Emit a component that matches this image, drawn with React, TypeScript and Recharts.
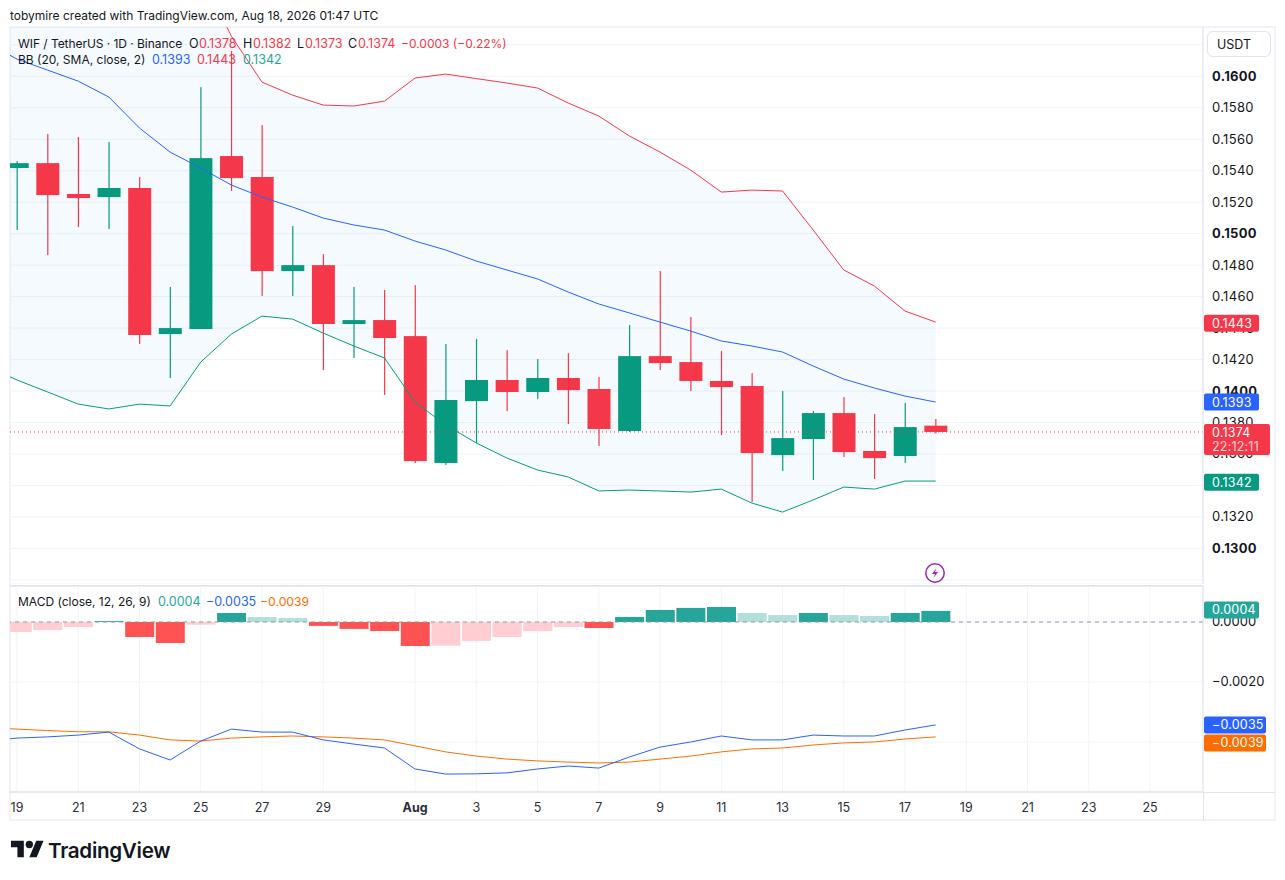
import {Area, Bar, CartesianGrid, Cell, ComposedChart, Line, ReferenceLine, XAxis, YAxis} from "recharts";

const days = [
    "Jul 18", "Jul 19", "Jul 20", "Jul 21", "Jul 22", "Jul 23", "Jul 24", "Jul 25", "Jul 26", "Jul 27", "Jul 28",
    "Jul 29", "Jul 30", "Jul 31", "Aug 1", "Aug 2", "Aug 3", "Aug 4", "Aug 5", "Aug 6", "Aug 7", "Aug 8", "Aug 9",
    "Aug 10", "Aug 11", "Aug 12", "Aug 13", "Aug 14", "Aug 15", "Aug 16", "Aug 17", "Aug 18",
];

// candles start on Jul 19, the indicators one day earlier so the lines run off the left edge
const opens = [.15417, .15448, .15252, .15232, .1529, .14362, .14394, .15493, .1536, .14762, .148, .14426, .14451, .14349, .13543, .13936, .1407, .13994, .14083, .14013, .13746, .14222, .14184, .14064, .14032, .13593, .13695, .1386, .13619, .13587, .1378];
const highs = [.15461, .15633, .15614, .15582, .1536, .14661, .15931, .1616, .1569, .15048, .1487, .14661, .14642, .14673, .14299, .1433, .1426, .14203, .14241, .14089, .14419, .14762, .1447, .14254, .14114, .14, .13873, .13962, .13854, .13924, .13822];
const lows = [.15023, .14864, .15042, .15029, .14299, .14083, .14394, .15271, .14604, .14604, .14133, .1421, .13975, .13543, .1353, .1367, .13873, .13949, .1379, .13651, .1374, .14133, .14, .1372, .13295, .13492, .13435, .13581, .13441, .13543, .1373];
const closes = [.15448, .15245, .15226, .1529, .14356, .144, .1548, .15353, .14762, .148, .14426, .14451, .14337, .13555, .13943, .1407, .13994, .14083, .14006, .13759, .14222, .14178, .14064, .14025, .13606, .13701, .1386, .13612, .13574, .13771, .1374];

const bbBasis = [.16217, .16109, .16039, .15969, .15868, .15671, .15518, .15417, .15309, .15232, .15169, .15099, .15055, .15023, .14953, .14896, .14826, .14769, .14712, .14629, .14553, .14496, .14438, .14381, .14318, .14286, .14248, .14159, .14076, .14019, .13968, .1393];
const bbUpper = [.18276, .18149, .18085, .18021, .1785, .17424, .17132, .16649, .16255, .15963, .1588, .15817, .15811, .15842, .15989, .16014, .15985, .15957, .15925, .1583, .15747, .1562, .15518, .15404, .15264, .15277, .15271, .15023, .14769, .14667, .14508, .14438];
const bbLower = [.14159, .1407, .13994, .13917, .13886, .13917, .13905, .14184, .14362, .14476, .14457, .14368, .14286, .1421, .1393, .13784, .1367, .13574, .13498, .13454, .13365, .13371, .13365, .13358, .13377, .13288, .13231, .13308, .1339, .13377, .13428, .13428];

const macdLine = [-.00397, -.00387, -.00383, -.00377, -.00367, -.00423, -.0046, -.00397, -.00357, -.00367, -.00367, -.00393, -.00407, -.0042, -.0049, -.00507, -.00506, -.00503, -.0049, -.0048, -.00487, -.0045, -.00417, -.004, -.0038, -.00393, -.00393, -.00377, -.0038, -.0038, -.0036, -.00343];
const signalLine = [-.00352, -.00357, -.00362, -.00366, -.00366, -.00377, -.00393, -.00397, -.00387, -.00383, -.0038, -.00383, -.00387, -.00393, -.00413, -.00433, -.00447, -.00457, -.00463, -.00467, -.0047, -.00467, -.00457, -.00447, -.00433, -.00423, -.0042, -.0041, -.00403, -.004, -.0039, -.00383];
const histogram = [-.00033, -.00027, -.00017, .00003, -.0005, -.0007, -.00009, .0003, .00017, .00013, -.00013, -.00023, -.0003, -.0008, -.00079, -.00063, -.0005, -.0003, -.00017, -.0002, .00017, .0004, .00047, .0005, .0003, .00023, .0003, .00023, .0002, .0003, .00037];

const dayTicks = [0, 2, 4, 6, 8, 10, 13, 15, 17, 19, 21, 23, 25, 27, 29, 31, 33, 35, 37];
const dayTickLabels = ["19", "21", "23", "25", "27", "29", "Aug", "3", "5", "7", "9", "11", "13", "15", "17", "19", "21", "23", "25"];
const priceTicks = [.128, .13, .132, .134, .136, .138, .14, .142, .144, .146, .148, .15, .152, .154, .156, .158, .16, .162];
const macdTicks = [0, -.002, -.004];
// grid lines that carry no visible label in the picture
const unlabelledTicks = [.128, .134, .162, -.004];

const lastClose = .1374;
const lastBasis = .1393;
const lastUpper = .1443;
const lastLower = .1342;
const lastHist = .0004;
const lastMacd = -.0035;
const lastSignal = -.0039;

const RED = "#f53849";
const GREEN = "#089a80";
const BLUE = "#2962ff";
const ORANGE = "#ff6d00";
const TEAL = "#26a69a";
const GRID = "#f0f3fa";
const BORDER = "#e0e3eb";
const TEXT = "#131722";
const FONT = "Inter, 'Noto Sans', sans-serif";

const xDomain = [-0.2286, 38.73];
const priceDomain = [.12774, .16313];
const macdDomain = [-.005667, .0012];

const priceData = days.map((day, i) => ({
    day,
    x: i - 1,
    open: opens[i - 1],
    close: closes[i - 1],
    range: i > 0 ? [lows[i - 1], highs[i - 1]] : null,
    basis: bbBasis[i],
    upper: bbUpper[i],
    lower: bbLower[i],
    band: [bbLower[i], bbUpper[i]],
}));

const macdData = days.map((day, i) => ({
    day,
    x: i - 1,
    hist: i > 0 ? histogram[i - 1] : null,
    macd: macdLine[i],
    signal: signalLine[i],
}));

function histColor(value: number, prev: number) {
    if (value >= 0) return value >= prev ? TEAL : "#b2dfdb";
    return value <= prev ? "#ff5252" : "#ffcdd2";
}

function Candle(props: any) {
    const {x, y, width, height, payload} = props;
    if (!payload || !payload.range || width == null) return null;
    const [low, high] = payload.range;
    const top = Math.min(y, y + height);
    const span = Math.abs(height);
    const at = (v: number) => top + ((high - v) / (high - low)) * span;
    const color = payload.close >= payload.open ? GREEN : RED;
    const bodyTop = at(Math.max(payload.open, payload.close));
    const bodyBottom = at(Math.min(payload.open, payload.close));
    return (
        <g>
            <rect x={x + width / 2 - 0.6} y={top} width={1.2} height={span} fill={color} />
            <rect x={x} y={bodyTop} width={width} height={Math.max(bodyBottom - bodyTop, 1)} fill={color} />
        </g>
    );
}

function PriceTick({x, y, payload}: any) {
    if (unlabelledTicks.includes(payload.value)) return null;
    const isRound = Math.abs(payload.value * 100 - Math.round(payload.value * 100)) < 1e-6;
    return (
        <text x={x + 1} y={y + 4.5} fontSize={13} letterSpacing={0.3} fontFamily={FONT} fontWeight={isRound ? 700 : 400} fill={TEXT}>
            {payload.value.toFixed(4)}
        </text>
    );
}

function MacdTick({x, y, payload}: any) {
    if (unlabelledTicks.includes(payload.value)) return null;
    const label = payload.value.toFixed(4).replace("-", "\u2212");
    return (
        <text x={x + 1} y={y + 4.5} fontSize={13} fontFamily={FONT} fill={TEXT}>
            {label}
        </text>
    );
}

function DayTick({x, y, payload}: any) {
    const label = dayTickLabels[dayTicks.indexOf(payload.value)];
    return (
        <text x={x} y={y + 11.5} textAnchor="middle" fontSize={12.5} fontFamily={FONT}
              fontWeight={label === "Aug" ? 700 : 400} fill="#2a2e39">
            {label}
        </text>
    );
}

function Badge({viewBox, text, color, shift = 0, w = 55}: any) {
    const left = viewBox.x + viewBox.width + 1;
    const top = viewBox.y + shift - 8.5;
    return (
        <g>
            <rect x={left} y={top} width={w} height={17} rx={2} fill={color} />
            <text x={left + 8} y={top + 13} fontSize={12.5} letterSpacing={0.2} fontFamily={FONT} fill="#fff">{text}</text>
        </g>
    );
}

function CloseBadge({viewBox}: any) {
    const left = viewBox.x + viewBox.width + 1;
    const top = viewBox.y - 8;
    return (
        <g>
            <rect x={left} y={top} width={66} height={31} rx={2} fill={RED} />
            <text x={left + 8} y={top + 13} fontSize={12.5} letterSpacing={0.2} fontFamily={FONT} fill="#fff">{lastClose.toFixed(4)}</text>
            <text x={left + 8} y={top + 27} fontSize={12.5} letterSpacing={0.2} fontFamily={FONT} fill="#fff" fillOpacity={0.8}>22:12:11</text>
        </g>
    );
}

// sits on top of the main chart so the badges cover the axis labels, like on TradingView
function BadgeLayer({top, height, domain, axisHeight = 0, children}: any) {
    return (
        <div style={{position: "absolute", left: 10, top, pointerEvents: "none"}}>
            <ComposedChart width={1265} height={height} data={priceData} margin={{top: 0, right: 0, bottom: 0, left: 0}}>
                <XAxis dataKey="x" type="number" domain={xDomain} allowDataOverflow height={axisHeight} tick={false} axisLine={false} tickLine={false} />
                <YAxis orientation="right" width={72} type="number" domain={domain} allowDataOverflow tick={false} axisLine={false} tickLine={false} />
                {children}
            </ComposedChart>
        </div>
    );
}

const legendText = {position: "absolute", fontFamily: FONT, lineHeight: "16px", whiteSpace: "nowrap", color: TEXT} as const;

function Txt({x, y, color = TEXT, size = 12.5, spacing = 0, children}: any) {
    return <div style={{...legendText, left: x, top: y - 8, color, fontSize: size, letterSpacing: spacing}}>{children}</div>;
}

function Logo() {
    return (
        <div style={{position: "absolute", left: 11, top: 837, display: "flex", alignItems: "center", color: "#131722"}}>
            <svg width="33" height="26" viewBox="0 0 36 28" fill="#131722">
                <path d="M14 22H7V11H0V4h14v18zM28 22h-8l7.5-18h8L28 22z" />
                <circle cx="20" cy="8" r="4" />
            </svg>
            <span style={{fontFamily: FONT, fontSize: 20.6, fontWeight: 600, marginLeft: 4, letterSpacing: -0.3}}>TradingView</span>
        </div>
    );
}

export default function App() {
    return (
        <div style={{position: "absolute", left: 0, top: 0, width: 1285, height: 880, background: "#fff", overflow: "hidden"}}>
            <Txt x={10} y={16} size={12}>tobymire created with TradingView.com, Aug 18, 2026 01:47 UTC</Txt>

            {/* frame */}
            <div style={{position: "absolute", left: 9, top: 26, width: 1267, height: 795, boxSizing: "border-box", border: `2px solid ${GRID}`}} />

            <div style={{position: "absolute", left: 10, top: 27}}>
                <ComposedChart width={1265} height={557} data={priceData} margin={{top: 0, right: 0, bottom: 0, left: 0}}>
                    <CartesianGrid stroke={GRID} strokeWidth={1} />
                    <XAxis dataKey="x" type="number" domain={xDomain} ticks={dayTicks} allowDataOverflow height={0} tick={false} axisLine={false} tickLine={false} />
                    <YAxis orientation="right" width={72} type="number" domain={priceDomain} ticks={priceTicks} interval={0}
                           allowDataOverflow tick={<PriceTick />} tickLine={false} axisLine={{stroke: BORDER}} />
                    <Area dataKey="band" stroke="none" fill="#2196f3" fillOpacity={0.05} isAnimationActive={false} dot={false} activeDot={false} />
                    <Line dataKey="basis" stroke={BLUE} strokeWidth={1} dot={false} activeDot={false} isAnimationActive={false} />
                    <Line dataKey="upper" stroke={RED} strokeWidth={1} dot={false} activeDot={false} isAnimationActive={false} />
                    <Line dataKey="lower" stroke={GREEN} strokeWidth={1} dot={false} activeDot={false} isAnimationActive={false} />
                    <Bar dataKey="range" barSize={23} shape={<Candle />} isAnimationActive={false} />
                    <ReferenceLine y={lastClose} stroke={RED} strokeDasharray="1 3" strokeWidth={1} />
                </ComposedChart>
            </div>

            <BadgeLayer top={27} height={557} domain={priceDomain}>
                <ReferenceLine y={lastClose} stroke="none" label={<CloseBadge />} />
                <ReferenceLine y={lastUpper} stroke="none" label={<Badge text={lastUpper.toFixed(4)} color={RED} />} />
                <ReferenceLine y={lastBasis} stroke="none" label={<Badge text={lastBasis.toFixed(4)} color={BLUE} />} />
                <ReferenceLine y={lastLower} stroke="none" label={<Badge text={lastLower.toFixed(4)} color={GREEN} />} />
            </BadgeLayer>

            <div style={{position: "absolute", left: 10, top: 585, width: 1193, height: 2, background: BORDER}} />

            <div style={{position: "absolute", left: 10, top: 586}}>
                <ComposedChart width={1265} height={234} data={macdData} margin={{top: 0, right: 0, bottom: 0, left: 0}}>
                    <CartesianGrid stroke={GRID} strokeWidth={1} />
                    <XAxis dataKey="x" type="number" domain={xDomain} ticks={dayTicks} interval={0} allowDataOverflow height={28}
                           tick={<DayTick />} tickLine={false} axisLine={{stroke: BORDER, strokeWidth: 1.5}} />
                    <YAxis orientation="right" width={72} type="number" domain={macdDomain} ticks={macdTicks} interval={0}
                           allowDataOverflow tick={<MacdTick />} tickLine={false} axisLine={{stroke: BORDER}} />
                    <Bar dataKey="hist" barSize={29} isAnimationActive={false}>
                        {macdData.map((row, i) => (
                            <Cell key={row.day} fill={row.hist == null ? "none" : histColor(row.hist, i > 1 ? histogram[i - 2] : row.hist - .00001)} />
                        ))}
                    </Bar>
                    <ReferenceLine y={0} stroke="#9598a1" strokeDasharray="4 4" strokeWidth={1} />
                    <Line dataKey="signal" stroke={ORANGE} strokeWidth={1} dot={false} activeDot={false} isAnimationActive={false} />
                    <Line dataKey="macd" stroke={BLUE} strokeWidth={1} dot={false} activeDot={false} isAnimationActive={false} />
                </ComposedChart>
            </div>

            <BadgeLayer top={586} height={234} domain={macdDomain} axisHeight={28}>
                <ReferenceLine y={lastHist} stroke="none" label={<Badge text={lastHist.toFixed(4)} color={TEAL} />} />
                <ReferenceLine y={lastMacd} stroke="none" label={<Badge text={"\u2212" + Math.abs(lastMacd).toFixed(4)} color={BLUE} shift={-2} w={62} />} />
                <ReferenceLine y={lastSignal} stroke="none" label={<Badge text={"\u2212" + Math.abs(lastSignal).toFixed(4)} color={ORANGE} shift={4} w={62} />} />
            </BadgeLayer>

            {/* axis corner lines */}
            <div style={{position: "absolute", left: 1203, top: 792, width: 1, height: 28, background: BORDER}} />
            <div style={{position: "absolute", left: 1203, top: 792, width: 72, height: 1, background: BORDER}} />

            {/* legends */}
            <Txt x={18} y={44} size={12} spacing={-0.05}>WIF / TetherUS · 1D · Binance</Txt>
            <Txt x={189} y={44}>O</Txt><Txt x={199} y={44} color={RED}>0.1378</Txt>
            <Txt x={243} y={44}>H</Txt><Txt x={253} y={44} color={RED}>0.1382</Txt>
            <Txt x={297} y={44}>L</Txt><Txt x={305} y={44} color={RED}>0.1373</Txt>
            <Txt x={348} y={44}>C</Txt><Txt x={358} y={44} color={RED}>0.1374</Txt>
            <Txt x={401} y={44} size={12} color={RED}>{"\u22120.0003 (\u22120.22%)"}</Txt>
            <Txt x={18} y={60} size={12}>BB (20, SMA, close, 2)</Txt>
            <Txt x={152} y={60} color={BLUE}>0.1393</Txt>
            <Txt x={197} y={60} color={RED}>0.1443</Txt>
            <Txt x={243} y={60} color={TEAL}>0.1342</Txt>
            <Txt x={18} y={602} size={12}>MACD (close, 12, 26, 9)</Txt>
            <Txt x={158} y={602} color={TEAL}>0.0004</Txt>
            <Txt x={206} y={602} color={BLUE}>{"\u22120.0035"}</Txt>
            <Txt x={260} y={602} size={12.2} color={ORANGE}>{"\u22120.0039"}</Txt>

            {/* currency button */}
            <div style={{...legendText, fontSize: 12.5, left: 1207, top: 31, width: 64, height: 26, lineHeight: "26px", border: `1px solid ${BORDER}`, borderRadius: 6, boxSizing: "border-box", paddingLeft: 9}}>USDT</div>

            {/* lightning marker */}
            <svg style={{position: "absolute", left: 924, top: 562}} width="22" height="22" viewBox="0 0 22 22">
                <circle cx="11" cy="11" r="9.2" fill="#fff" stroke="#9c27b0" strokeWidth="1.5" />
                <path d="M12.5 6 L8 12 H11 L9.5 16 L14 10 H11 Z" fill="#9c27b0" />
            </svg>

            <Logo />
        </div>
    );
}
